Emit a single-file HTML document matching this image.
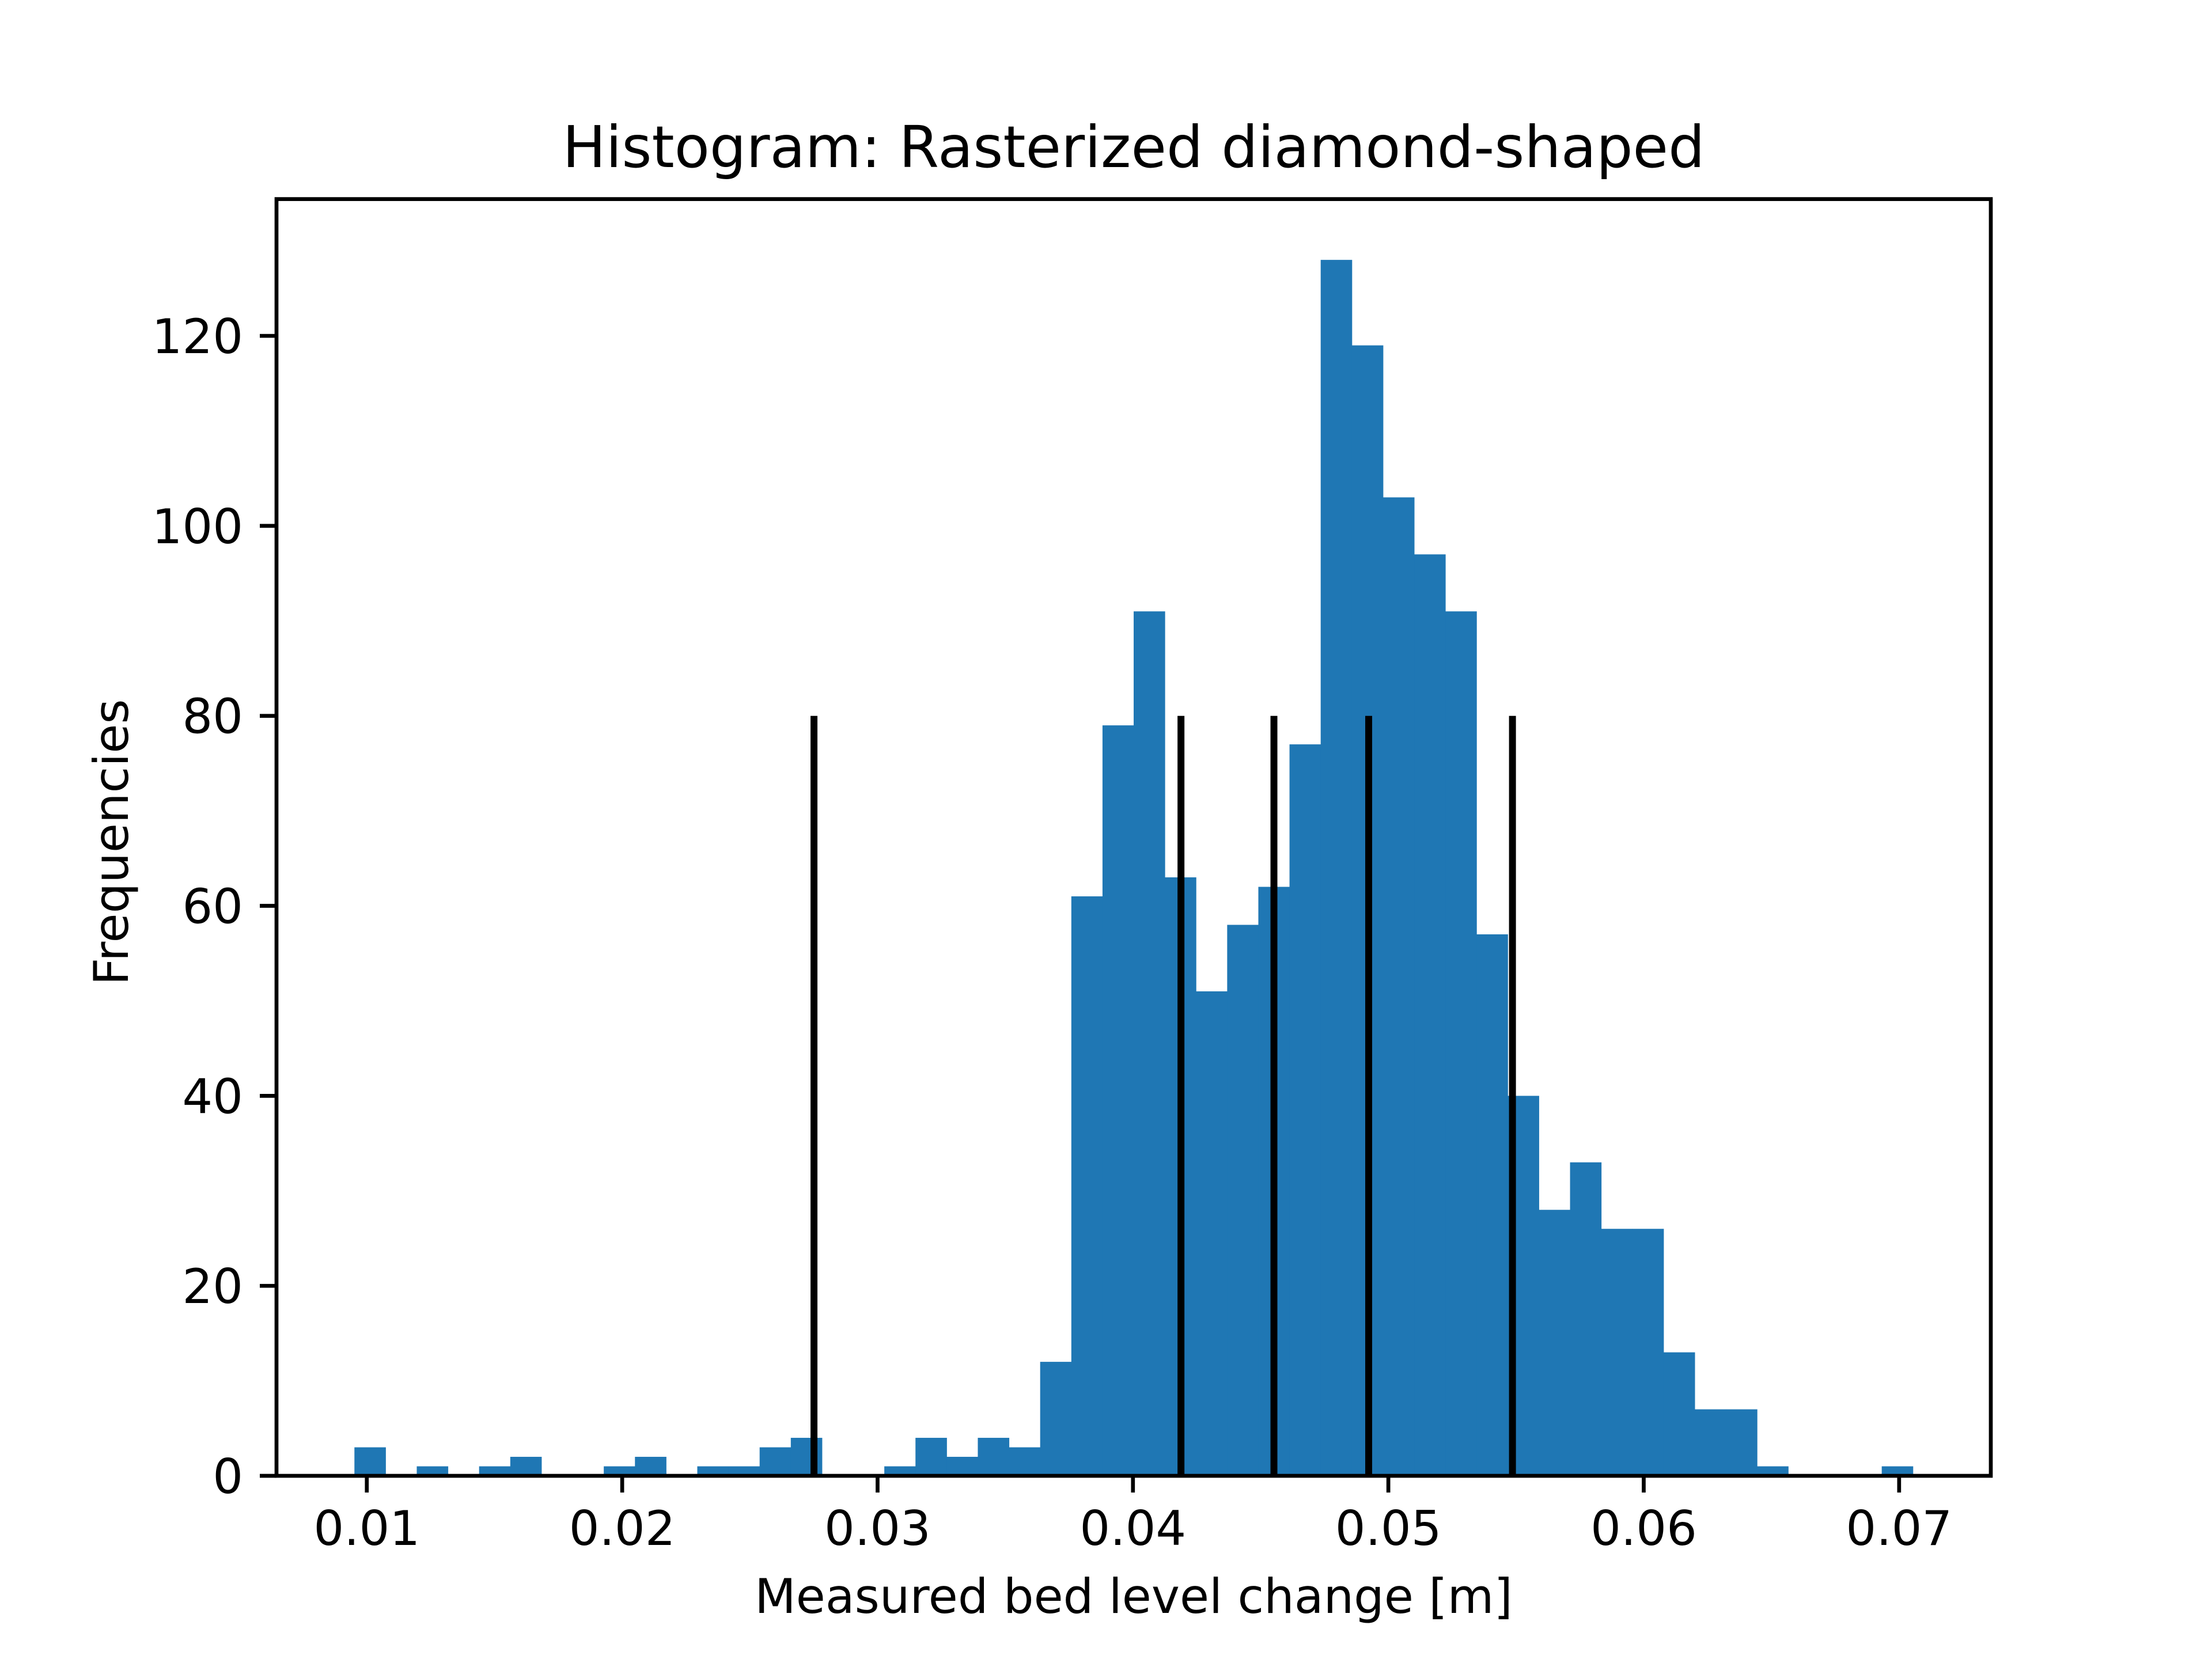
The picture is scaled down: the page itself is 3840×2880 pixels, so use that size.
<!DOCTYPE html>
<html><head><meta charset="utf-8"><style>
html,body{margin:0;padding:0;background:#fff;}
svg{display:block;font-family:"DejaVu Sans","Liberation Sans",sans-serif;}
</style></head><body>
<svg id="chart" width="3840" height="2880" viewBox="0 0 3840 2880" xmlns="http://www.w3.org/2000/svg">
<rect width="3840" height="2880" fill="#fff"/>
<g id="bars"></g>
<g id="vlines"></g>
<g id="xticks"></g>
<g id="yticks"></g>
<rect x="480" y="345.6" width="2976" height="2216.4" fill="none" stroke="#000" stroke-width="6.7"/>
<text x="1968" y="290" font-size="100" text-anchor="middle">Histogram: Rasterized diamond-shaped</text>
<text x="1968" y="2800" font-size="83" text-anchor="middle">Measured bed level change [m]</text>
<text x="222" y="1462" font-size="83" text-anchor="middle" transform="rotate(-90 222 1462)">Frequencies</text>
</svg>
<script>
const binStart = 0.009515;
const binWidth = 0.0012205;
const counts = [3,0,1,0,1,2,0,0,1,2,0,1,1,3,4,0,0,1,4,2,4,3,12,61,79,91,63,51,58,62,77,128,119,103,97,91,57,40,28,33,26,26,13,7,7,1,0,0,0,1];
const markerX = [0.02751,0.04188,0.04552,0.04923,0.05486];
const markerHeight = 80;
const xTicks = [0.01,0.02,0.03,0.04,0.05,0.06,0.07];
const xTickLabels = ["0.01","0.02","0.03","0.04","0.05","0.06","0.07"];
const yTicks = [0,20,40,60,80,100,120];

const L=480,R=3456,T=345.6,B=2562;
const xmin=0.006464,xmax=0.07359,ymax=134.4;
const sx=v=>L+(v-xmin)/(xmax-xmin)*(R-L);
const sy=v=>B-v/ymax*(B-T);
const NS="http://www.w3.org/2000/svg";
function mk(tag,attrs,parent){const e=document.createElementNS(NS,tag);for(const k in attrs)e.setAttribute(k,attrs[k]);parent.appendChild(e);return e;}
const bars=document.getElementById('bars');
counts.forEach((c,i)=>{
  if(c<=0)return;
  const x0=sx(binStart+i*binWidth),x1=sx(binStart+(i+1)*binWidth);
  const r=mk('rect',{x:x0,y:sy(c),width:x1-x0+0.5,height:B-sy(c),fill:'#1f77b4'},bars);
  
  
});
const vl=document.getElementById('vlines');
markerX.forEach((v,i)=>{
  const l=mk('line',{x1:sx(v),x2:sx(v),y1:sy(0),y2:sy(markerHeight),stroke:'#000','stroke-width':12},vl);
  
  
});
const xg=document.getElementById('xticks');
xTicks.forEach((v,i)=>{
  const x=sx(v);
  const t=mk('line',{x1:x,x2:x,y1:B,y2:B+29,stroke:'#000','stroke-width':6.7},xg);
  
  
  const tx=mk('text',{x:x,y:B+29+29+62,'font-size':83,'text-anchor':'middle'},xg);
  tx.textContent=xTickLabels[i];
  
  
});
const yg=document.getElementById('yticks');
yTicks.forEach(v=>{
  const y=sy(v);
  const t=mk('line',{x1:L-29,x2:L,y1:y,y2:y,stroke:'#000','stroke-width':6.7},yg);
  
  
  const tx=mk('text',{x:L-29-29,y:y+30,'font-size':83,'text-anchor':'end'},yg);
  tx.textContent=String(v);
  
  
});
</script>
</body></html>
